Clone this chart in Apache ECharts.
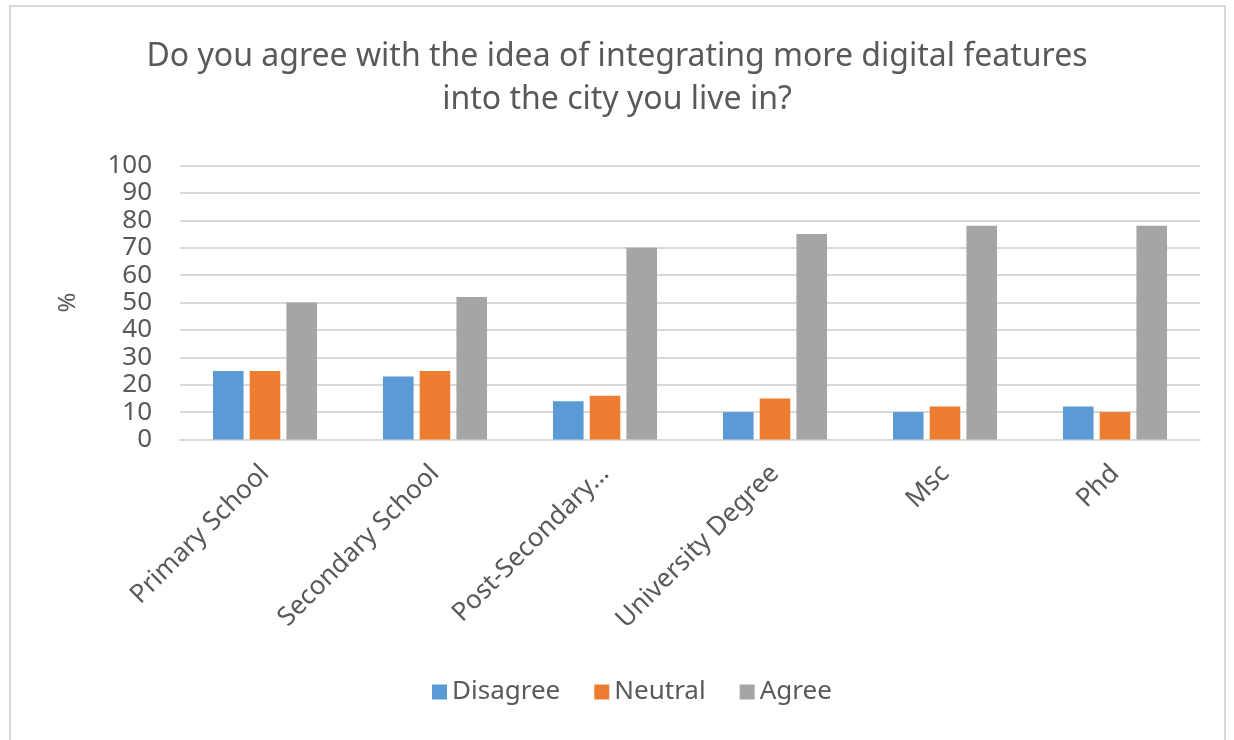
<!DOCTYPE html>
<html>
<head>
<meta charset="utf-8">
<script src="https://cdn.jsdelivr.net/npm/echarts@6/dist/echarts.min.js"></script>
<style>
  html, body { margin: 0; padding: 0; background: #fff; }
  #frame { position: absolute; left: 9px; top: 5px; width: 1217px; height: 740px;
           border: 2px solid #d9d9d9; border-bottom: none; box-sizing: border-box; }
  #chart { position: absolute; left: 0; top: 0; width: 1234px; height: 740px; }
</style>
</head>
<body>
<div id="frame"></div>
<div id="chart"></div>
<script>
// Survey answers by education level, in percent
const categories = ['Primary School', 'Secondary School', 'Post-Secondary...', 'University Degree', 'Msc', 'Phd'];
const disagree = [25, 23, 14, 10, 10, 12];
const neutral  = [25, 25, 16, 15, 12, 10];
const agree    = [50, 52, 70, 75, 78, 78];
const yTicks   = { min: 0, max: 100, interval: 10 };

const FONT = '"Noto Sans", "Open Sans", sans-serif';
const TEXT = '#595959';

const chart = echarts.init(document.getElementById('chart'), null, { renderer: 'canvas' });

function barSeries(name, data, color) {
  return {
    name, type: 'bar', data,
    barWidth: '18%', barGap: '20%',
    itemStyle: { color },
    emphasis: { disabled: true }
  };
}

chart.setOption({
  animation: false,
  title: {
    text: 'Do you agree with the idea of integrating more digital features\ninto the city you live in?',
    left: 'center', top: 30,
    textStyle: { fontFamily: FONT, fontSize: 32, fontWeight: 'normal', color: TEXT, lineHeight: 43 }
  },
  legend: {
    bottom: 30, left: 427,
    itemWidth: 15, itemHeight: 15, itemGap: 34,
    icon: 'rect',
    textStyle: { fontFamily: FONT, fontSize: 26, color: TEXT },
    data: ['Disagree', 'Neutral', 'Agree']
  },
  grid: { left: 180, right: 34, top: 165.5, bottom: 300.5, containLabel: false },
  xAxis: {
    type: 'category', data: categories,
    axisLine: { lineStyle: { color: '#d9d9d9', width: 2 } },
    axisTick: { show: false },
    axisLabel: { rotate: 45, margin: 30, fontFamily: FONT, fontSize: 26, color: TEXT, interval: 0 }
  },
  yAxis: {
    type: 'value', min: yTicks.min, max: yTicks.max, interval: yTicks.interval,
    name: '%', nameLocation: 'middle', nameGap: 100, nameRotate: 90,
    nameTextStyle: { fontFamily: FONT, fontSize: 24, color: TEXT },
    axisLine: { show: false }, axisTick: { show: false },
    axisLabel: { fontFamily: FONT, fontSize: 26, color: TEXT, margin: 28 },
    splitLine: { lineStyle: { color: '#d9d9d9', width: 2 } }
  },
  series: [
    barSeries('Disagree', disagree, '#5B9BD5'),
    barSeries('Neutral', neutral, '#ED7D31'),
    barSeries('Agree', agree, '#A5A5A5')
  ]
});
</script>
</body>
</html>
